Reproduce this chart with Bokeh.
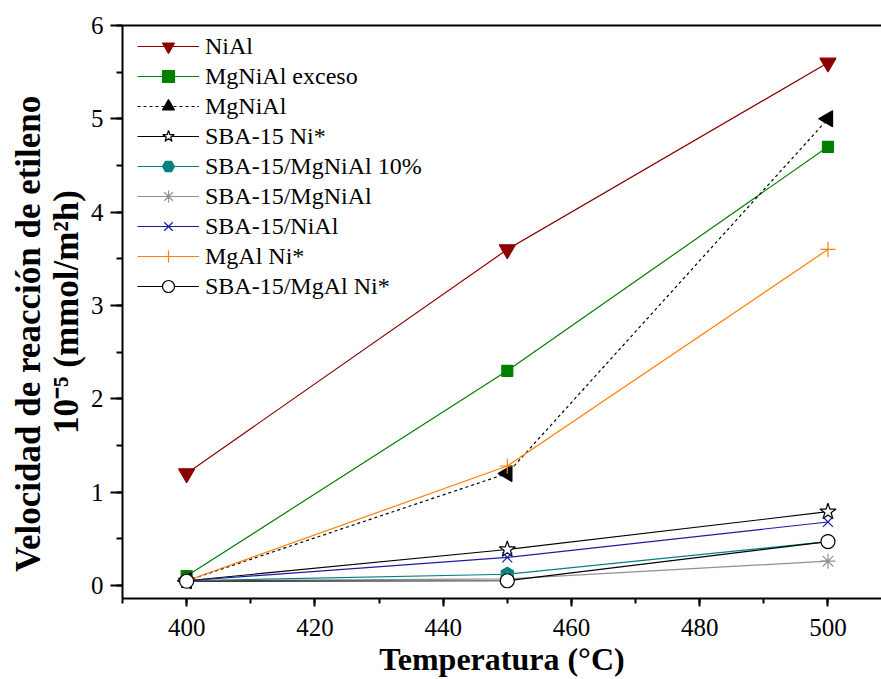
import numpy as np
from bokeh.plotting import figure
from bokeh.models import (LinearAxis, SingleIntervalTicker, FixedTicker, Legend,
                          LegendItem, Range1d)
from bokeh.embed import file_html
from bokeh.resources import INLINE

# Reaction temperatures (°C)
temperatura = [400, 450, 500]

# Ethylene reaction rate, 10^-5 mmol/(m^2 h)
nial = [1.2, 3.6, 5.6]
mgnial_exceso = [0.10, 2.3, 4.7]
mgnial = [0.05, 1.2, 5.0]
sba15_ni = [0.05, 0.385, 0.79]
sba15_mgnial_10 = [0.05, 0.12, 0.47]
sba15_mgnial = [0.05, 0.07, 0.26]
sba15_nial = [0.05, 0.30, 0.68]
mgal_ni = [0.05, 1.28, 3.6]
sba15_mgal_ni = [0.045, 0.05, 0.47]

series_names = ["NiAl", "MgNiAl exceso", "MgNiAl", "SBA-15 Ni*",
                "SBA-15/MgNiAl 10%", "SBA-15/MgNiAl", "SBA-15/NiAl",
                "MgAl Ni*", "SBA-15/MgAl Ni*"]

x_ticks_major = 20
y_ticks_major = 1

SERIF = "'Liberation Serif'"

p = figure(width=881, height=679, output_backend="svg", toolbar_location=None,
           x_range=Range1d(390, 508.35), y_range=Range1d(-0.14, 6.0),
           min_border_left=122, min_border_right=0, min_border_top=25,
           min_border_bottom=80, outline_line_color=None)
p.xgrid.visible = False
p.ygrid.visible = False
p.background_fill_color = "white"
p.border_fill_color = "white"

def style_axis(ax, major_out, minor_out):
    ax.axis_line_width = 2
    ax.axis_line_color = "black"
    ax.major_tick_in = 0
    ax.minor_tick_in = 0
    ax.major_tick_out = major_out
    ax.minor_tick_out = minor_out
    ax.major_tick_line_width = 2
    ax.minor_tick_line_width = 2
    ax.major_label_text_font = SERIF
    ax.major_label_text_font_size = "25px"
    ax.major_label_text_color = "black"
    ax.axis_label_text_font = SERIF
    ax.axis_label_text_font_style = "bold"
    ax.axis_label_text_color = "black"

xa = p.xaxis[0]
xa.ticker = SingleIntervalTicker(interval=x_ticks_major, num_minor_ticks=2)
style_axis(xa, 8, 5)
xa.major_label_standoff = 12
xa.axis_label = "Temperatura (°C)"
xa.axis_label_text_font_size = "32px"
xa.axis_label_standoff = 2

ya = p.yaxis[0]
ya.ticker = SingleIntervalTicker(interval=y_ticks_major, num_minor_ticks=2)
style_axis(ya, 12, 6)
ya.major_label_standoff = 7
ya.axis_label = "     Velocidad de reacción de etileno\n10⁻⁵ (mmol/m²h)"
ya.axis_label_text_font_size = "35px"
ya.axis_label_text_line_height = 0.97
ya.axis_label_standoff = 2

# plain frame line along the top
top = LinearAxis(ticker=FixedTicker(ticks=[]), major_label_text_font_size="0px",
                 major_tick_out=0, minor_tick_out=0, axis_line_width=2)
p.add_layout(top, "above")

styles = [
    dict(color="#8b0000", marker="inverted_triangle", size=16, fill="#8b0000", dash="solid", angle=0.0),
    dict(color="#008000", marker="square", size=11, fill="#008000", dash="solid", angle=0.0),
    dict(color="black", marker="triangle", size=16, fill="black", dash="3 3", angle=np.pi / 2),
    dict(color="black", marker="star", size=17, fill="white", dash="solid", angle=0.0),
    dict(color="#008080", marker="hex", size=14, fill="#008080", dash="solid", angle=np.pi / 6),
    dict(color="#909090", marker="asterisk", size=15, fill="#909090", dash="solid", angle=0.0),
    dict(color="#1c1ca0", marker="x", size=14, fill="#1c1ca0", dash="solid", angle=0.0),
    dict(color="#ff8000", marker="cross", size=15, fill="#ff8000", dash="solid", angle=0.0),
    dict(color="black", marker="circle", size=14, fill="white", dash="solid", angle=0.0),
]
values = [nial, mgnial_exceso, mgnial, sba15_ni, sba15_mgnial_10, sba15_mgnial,
          sba15_nial, mgal_ni, sba15_mgal_ni]

items = []
for name, ys, st in zip(series_names, values, styles):
    ln = p.line(temperatura, ys, line_color=st["color"], line_width=1.2,
                line_dash=st["dash"])
    mk = p.scatter(temperatura, ys, marker=st["marker"], size=st["size"],
                   angle=st["angle"], fill_color=st["fill"],
                   line_color=st["color"], line_width=1.2)
    items.append(LegendItem(label=name, renderers=[ln, mk]))

legend = Legend(items=items, location=(15, 297), orientation="vertical",
                label_text_font=SERIF, label_text_font_size="24px",
                label_text_color="black", glyph_width=62, glyph_height=30,
                label_height=30, label_standoff=6, spacing=0, padding=0,
                margin=0, border_line_color=None, background_fill_alpha=0)
p.add_layout(legend, "center")

open("out.html", "w").write(file_html(p, INLINE))
